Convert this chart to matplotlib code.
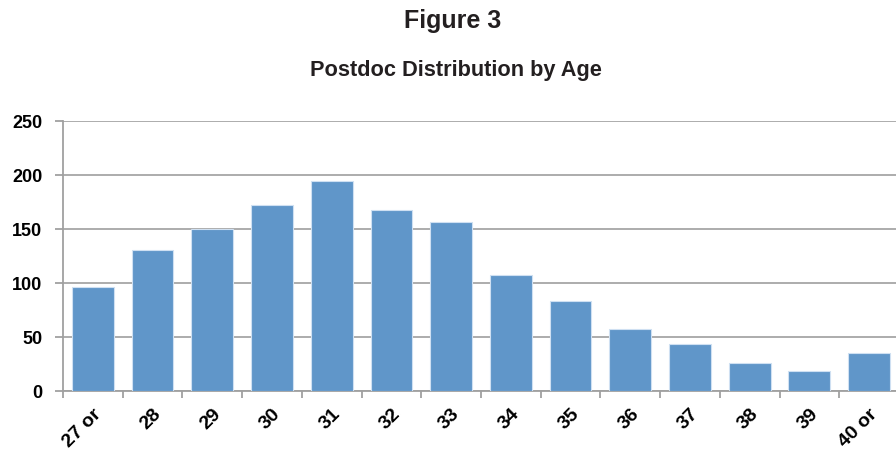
import numpy as np
import matplotlib
matplotlib.use("Agg")
import matplotlib.pyplot as plt

plt.rcParams['font.family'] = ['Liberation Sans', 'DejaVu Sans']

### Data: postdocs per age group
ages = ['27 or', '28', '29', '30', '31', '32', '33',
        '34', '35', '36', '37', '38', '39', '40 or']
counts = [96, 130, 150, 172, 194, 167, 156, 107, 83, 57, 43, 26, 18, 35]
yticks = [0, 50, 100, 150, 200, 250]

### Figure and axes (plot runs a little past the right edge)
fig = plt.figure(figsize=(8.96, 4.52), dpi=100)
ax = fig.add_axes([0.0703, 0.1334, 0.933, 0.5973])

x = np.arange(len(ages))
ax.bar(x, counts, width=0.70, color='#6096c9', edgecolor='#cfe0f2',
       linewidth=0.8, zorder=3)

ax.set_xlim(-0.5, len(ages) - 0.5)
ax.set_ylim(0, 250)
ax.set_yticks(yticks)
ax.set_yticklabels([str(v) for v in yticks], fontsize=13, fontweight='bold')

# category labels at the centres, tick marks on the boundaries
ax.set_xticks(x)
ax.set_xticklabels(ages, fontsize=14, fontweight='bold', rotation=45,
                   ha='right', rotation_mode='anchor')
ax.set_xticks(np.arange(len(ages) + 1) - 0.5, minor=True)
ax.tick_params(axis='x', which='major', length=0, pad=10)
ax.tick_params(axis='x', which='minor', length=5, width=1.3, color='#a0a0a0')
ax.tick_params(axis='y', length=6, width=1.3, color='#a0a0a0', pad=9)

ax.grid(axis='y', color='#a6a6a6', linewidth=1.3, zorder=0)
for side in ['top', 'right']:
    ax.spines[side].set_visible(False)
for side in ['left', 'bottom']:
    ax.spines[side].set_color('#a0a0a0')
    ax.spines[side].set_linewidth(1.3)

### Titles
fig.text(0.505, 0.953, 'Figure 3', ha='center', va='center',
         fontsize=18, fontweight='bold', color='#231f20')
fig.text(0.509, 0.845, 'Postdoc Distribution by Age', ha='center', va='center',
         fontsize=15.7, fontweight='bold', color='#231f20')

plt.savefig('out.png', dpi=100)
